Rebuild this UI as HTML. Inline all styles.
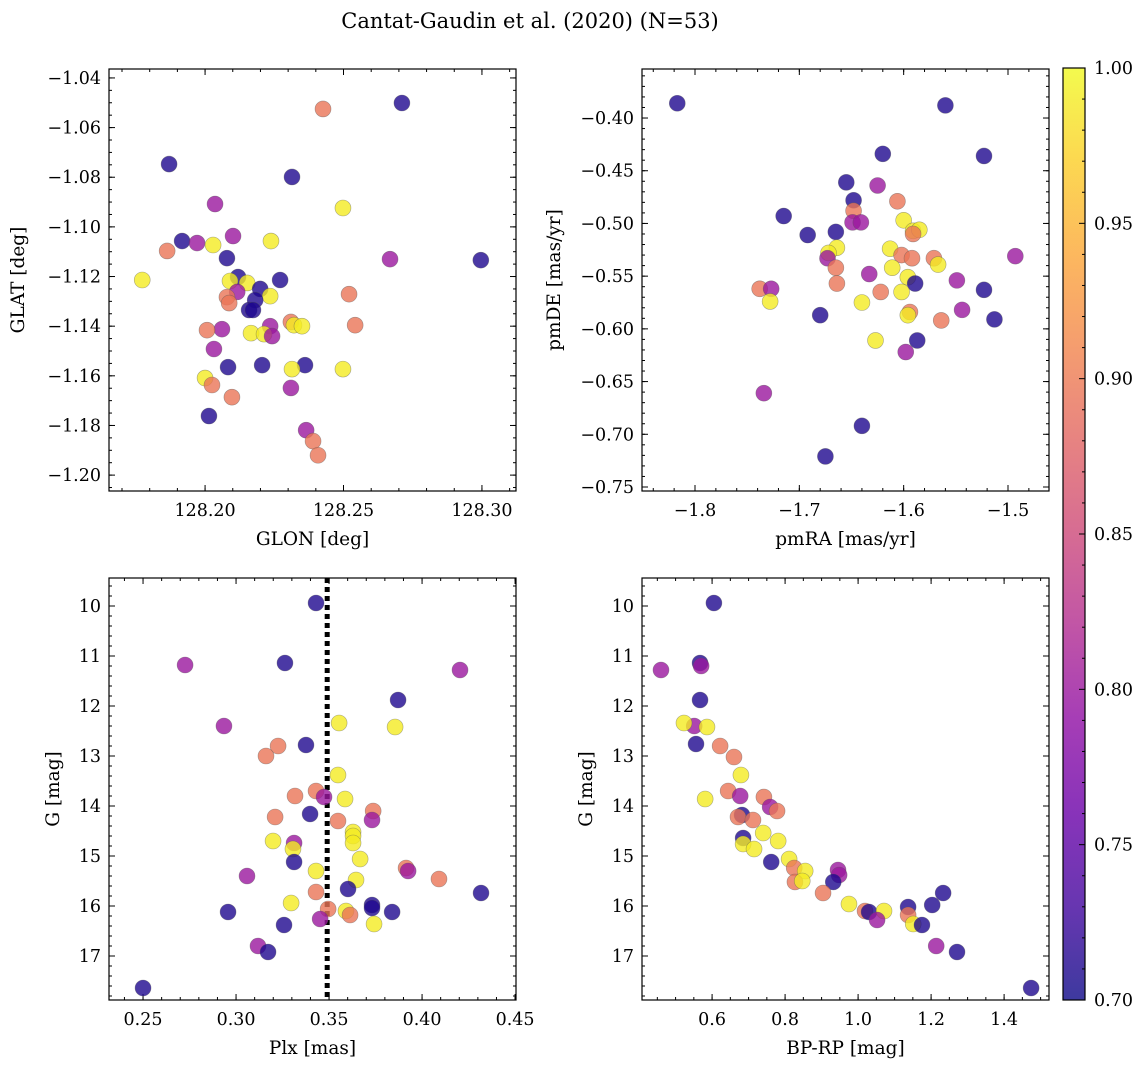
<!DOCTYPE html>
<html><head><meta charset="utf-8">
<style>
body{margin:0;background:#fff;}
svg text{font-family:"DejaVu Serif","Liberation Serif",serif;fill:#000;}
</style></head>
<body>
<svg id="fig" width="1148" height="1068" xmlns="http://www.w3.org/2000/svg">
<defs>
<linearGradient id="cbg" x1="0" y1="1" x2="0" y2="0">
<stop offset="0" stop-color="#0d0887"/><stop offset="0.1" stop-color="#41049d"/><stop offset="0.2" stop-color="#6a00a8"/><stop offset="0.3" stop-color="#8f0da4"/><stop offset="0.4" stop-color="#b12a90"/><stop offset="0.5" stop-color="#cc4778"/><stop offset="0.6" stop-color="#e16462"/><stop offset="0.7" stop-color="#f2844b"/><stop offset="0.8" stop-color="#fca636"/><stop offset="0.9" stop-color="#fcce25"/><stop offset="1" stop-color="#f0f921"/>
</linearGradient>
</defs>
<text x="530" y="28" font-size="21" text-anchor="middle">Cantat-Gaudin et al. (2020) (N=53)</text>
</svg>
<script>
// ---- data (b=0.71, p=0.80, s=0.895, y=0.99) ----
const glon=[128.2426,128.2711,128.1870,128.2314,128.2036,128.2498,128.2101,128.1917,128.1971,128.2238,128.1863,128.2029,128.2079,128.2668,128.2996,128.1773,128.2119,128.2090,128.2152,128.2271,128.2199,128.2116,128.2079,128.2235,128.2520,128.2181,128.2087,128.2159,128.2173,128.2310,128.2542,128.2235,128.2321,128.2350,128.2061,128.2007,128.2166,128.2213,128.2242,128.2032,128.2206,128.2361,128.2083,128.2314,128.2498,128.2000,128.2025,128.2310,128.2097,128.2014,128.2365,128.2390,128.2408];
const glat=[-1.0525,-1.0501,-1.0747,-1.0799,-1.0908,-1.0924,-1.1037,-1.1057,-1.1065,-1.1057,-1.1097,-1.1073,-1.1126,-1.1130,-1.1134,-1.1214,-1.1202,-1.1218,-1.1226,-1.1214,-1.1250,-1.1262,-1.1283,-1.1279,-1.1271,-1.1295,-1.1307,-1.1335,-1.1335,-1.1383,-1.1396,-1.1400,-1.1396,-1.1400,-1.1412,-1.1416,-1.1428,-1.1432,-1.1440,-1.1492,-1.1557,-1.1557,-1.1565,-1.1573,-1.1573,-1.1609,-1.1637,-1.1649,-1.1686,-1.1762,-1.1819,-1.1863,-1.1920];
const prob1=[0.895,0.71,0.71,0.71,0.80,0.99,0.80,0.71,0.80,0.99,0.895,0.99,0.71,0.80,0.71,0.99,0.71,0.99,0.99,0.71,0.71,0.80,0.895,0.99,0.895,0.71,0.895,0.71,0.71,0.895,0.895,0.80,0.99,0.99,0.80,0.895,0.99,0.99,0.80,0.80,0.71,0.71,0.71,0.99,0.99,0.99,0.895,0.80,0.895,0.71,0.80,0.895,0.895];

const pmra=[-1.655,-1.625,-1.606,-1.648,-1.648,-1.649,-1.641,-1.692,-1.665,-1.600,-1.591,-1.585,-1.591,-1.613,-1.602,-1.592,-1.664,-1.672,-1.673,-1.665,-1.611,-1.571,-1.567,-1.633,-1.596,-1.589,-1.549,-1.664,-1.622,-1.602,-1.640,-1.594,-1.596,-1.544,-1.680,-1.564,-1.587,-1.627,-1.598,-1.817,-1.560,-1.620,-1.523,-1.715,-1.493,-1.523,-1.738,-1.727,-1.728,-1.513,-1.734,-1.640,-1.675];
const pmde=[-0.461,-0.464,-0.479,-0.478,-0.488,-0.499,-0.499,-0.511,-0.508,-0.497,-0.507,-0.506,-0.510,-0.524,-0.530,-0.533,-0.523,-0.528,-0.533,-0.542,-0.542,-0.533,-0.539,-0.548,-0.551,-0.557,-0.554,-0.557,-0.565,-0.565,-0.575,-0.584,-0.587,-0.582,-0.587,-0.592,-0.611,-0.611,-0.622,-0.386,-0.388,-0.434,-0.436,-0.493,-0.531,-0.563,-0.562,-0.562,-0.574,-0.591,-0.661,-0.692,-0.721];
const prob2=[0.71,0.80,0.895,0.71,0.895,0.80,0.80,0.71,0.71,0.99,0.99,0.99,0.895,0.99,0.895,0.895,0.99,0.99,0.80,0.895,0.99,0.895,0.99,0.80,0.99,0.71,0.80,0.895,0.895,0.99,0.99,0.895,0.99,0.80,0.71,0.895,0.71,0.99,0.80,0.71,0.71,0.71,0.71,0.71,0.80,0.71,0.895,0.80,0.99,0.71,0.80,0.71,0.71];

const plx=[0.3430,0.2726,0.3263,0.4204,0.3871,0.2935,0.3554,0.3855,0.3226,0.3376,0.3161,0.3548,0.3430,0.3317,0.3473,0.3586,0.3737,0.3398,0.3210,0.3548,0.3731,0.3629,0.3629,0.3312,0.3199,0.3306,0.3629,0.3667,0.3312,0.3914,0.3925,0.3430,0.3059,0.3645,0.3602,0.4091,0.3430,0.4317,0.3296,0.3731,0.3731,0.3495,0.2957,0.3591,0.3839,0.3613,0.3452,0.3258,0.3742,0.3118,0.3172,0.2500];
const gmag3=[9.94,11.18,11.14,11.28,11.88,12.40,12.34,12.42,12.80,12.78,13.00,13.38,13.70,13.80,13.82,13.86,14.10,14.16,14.22,14.30,14.28,14.52,14.60,14.74,14.70,14.86,14.74,15.06,15.12,15.24,15.30,15.30,15.40,15.48,15.66,15.46,15.72,15.74,15.94,15.98,16.04,16.06,16.12,16.10,16.12,16.18,16.26,16.38,16.36,16.80,16.92,17.64];
const prob3=[0.71,0.80,0.71,0.80,0.71,0.80,0.99,0.99,0.895,0.71,0.895,0.99,0.895,0.895,0.80,0.99,0.895,0.71,0.895,0.895,0.80,0.99,0.99,0.80,0.99,0.99,0.99,0.99,0.71,0.895,0.80,0.99,0.80,0.99,0.71,0.895,0.895,0.71,0.99,0.71,0.71,0.895,0.71,0.99,0.71,0.895,0.80,0.71,0.99,0.80,0.71,0.71];
const plxCut=[0.349];

const bprp=[0.605,0.460,0.567,0.570,0.567,0.551,0.523,0.586,0.556,0.622,0.660,0.679,0.644,0.677,0.742,0.581,0.759,0.778,0.682,0.671,0.712,0.740,0.685,0.781,0.685,0.715,0.762,0.811,0.825,0.855,0.827,0.847,0.945,0.948,0.932,0.904,0.975,1.019,1.030,1.071,1.052,1.137,1.137,1.151,1.175,1.203,1.233,1.214,1.271,1.474];
const gmag4=[9.94,11.28,11.14,11.20,11.88,12.40,12.34,12.42,12.76,12.80,13.02,13.38,13.70,13.80,13.82,13.86,14.02,14.10,14.18,14.22,14.28,14.54,14.64,14.70,14.76,14.86,15.12,15.06,15.24,15.30,15.52,15.50,15.28,15.38,15.52,15.74,15.96,16.10,16.12,16.10,16.28,16.02,16.18,16.36,16.38,15.98,15.74,16.80,16.92,17.64];
const prob4=[0.71,0.80,0.71,0.80,0.71,0.80,0.99,0.99,0.71,0.895,0.895,0.99,0.895,0.80,0.895,0.99,0.80,0.895,0.71,0.895,0.895,0.99,0.71,0.99,0.99,0.99,0.71,0.99,0.895,0.99,0.895,0.99,0.80,0.80,0.71,0.895,0.99,0.895,0.71,0.99,0.80,0.71,0.895,0.99,0.71,0.71,0.71,0.80,0.71,0.71];

const cbTicks=[0.70,0.75,0.80,0.85,0.90,0.95,1.00];

// ---- rendering ----
const NS='http://www.w3.org/2000/svg';
const svg=document.getElementById('fig');
const TF=17.5, LF=18.5;
function mk(tag,attrs,parent){const e=document.createElementNS(NS,tag);for(const k in attrs)e.setAttribute(k,attrs[k]);(parent||svg).appendChild(e);return e;}
const stops=['#0d0887','#41049d','#6a00a8','#8f0da4','#b12a90','#cc4778','#e16462','#f2844b','#fca636','#fcce25','#f0f921'];
function hex(h){return [parseInt(h.slice(1,3),16),parseInt(h.slice(3,5),16),parseInt(h.slice(5,7),16)];}
function plasma(v){let t=Math.max(0,Math.min(1,(v-0.7)/0.3))*10;let i=Math.min(9,Math.floor(t));let f=t-i;const a=hex(stops[i]),b=hex(stops[i+1]);return 'rgb('+a.map((c,k)=>Math.round(c+(b[k]-c)*f)).join(',')+')';}

function panel(o){
  const g=mk('g',{});
  
  
  const X=v=>o.x0+(v-o.xmin)/(o.xmax-o.xmin)*(o.x1-o.x0);
  const Y=o.inv? v=>o.y0+(v-o.ymin)/(o.ymax-o.ymin)*(o.y1-o.y0) : v=>o.y1-(v-o.ymin)/(o.ymax-o.ymin)*(o.y1-o.y0);
  const tg=mk('g',{stroke:'#000','stroke-width':1},g);
  function ticks(min,max,step){const out=[];const s=Math.ceil(min/step-1e-9);for(let k=s;k*step<=max+1e-9;k++)out.push(k*step);return out;}
  ticks(o.xmin,o.xmax,o.xminor).forEach(v=>{const x=X(v);mk('line',{x1:x,x2:x,y1:o.y1,y2:o.y1-3},tg);mk('line',{x1:x,x2:x,y1:o.y0,y2:o.y0+3},tg);});
  ticks(o.ymin,o.ymax,o.yminor).forEach(v=>{const y=Y(v);mk('line',{x1:o.x0,x2:o.x0+3,y1:y,y2:y},tg);mk('line',{x1:o.x1,x2:o.x1-3,y1:y,y2:y},tg);});
  o.xt.forEach(v=>{const x=X(v);mk('line',{x1:x,x2:x,y1:o.y1,y2:o.y1-6},tg);mk('line',{x1:x,x2:x,y1:o.y0,y2:o.y0+6},tg);
    const t=mk('text',{x:x,y:o.y1+25,'font-size':TF,'text-anchor':'middle'},g);t.textContent=v.toFixed(o.xd).replace('-','\u2212');
    
    });
  o.yt.forEach(v=>{const y=Y(v);mk('line',{x1:o.x0,x2:o.x0+6,y1:y,y2:y},tg);mk('line',{x1:o.x1,x2:o.x1-6,y1:y,y2:y},tg);
    const t=mk('text',{x:o.x0-8,y:y+6,'font-size':TF,'text-anchor':'end'},g);t.textContent=v.toFixed(o.yd).replace('-','\u2212');
    
    });
  if(o.vline){o.vline.forEach(v=>{const l=mk('line',{x1:X(v),x2:X(v),y1:o.y0,y2:o.y1,stroke:'#000','stroke-width':5,'stroke-dasharray':'5,4'},g);
    
    });}
  o.xs.forEach((v,i)=>{const c=mk('circle',{cx:X(v),cy:Y(o.ys[i]),r:8,fill:plasma(o.cs[i]),'fill-opacity':0.8,stroke:'#555','stroke-opacity':0.5,'stroke-width':0.6},g);
    
    });
  const f=mk('rect',{x:o.x0,y:o.y0,width:o.x1-o.x0,height:o.y1-o.y0,fill:'none',stroke:'#000','stroke-width':1.2},g);
  
  
  const xl=mk('text',{x:(o.x0+o.x1)/2,y:o.y1+54,'font-size':LF,'text-anchor':'middle'},g);xl.textContent=o.xlab;
  
  
  const yl=mk('text',{x:0,y:0,'font-size':LF,'text-anchor':'middle',transform:'translate('+o.ylx+','+(o.y0+o.y1)/2+') rotate(-90)'},g);yl.textContent=o.ylab;
  
  
}
panel({name:'glon-glat-panel',x0:109,x1:516,y0:69,y1:491,xmin:128.1653,xmax:128.3123,ymin:-1.2064,ymax:-1.0364,xt:[128.20,128.25,128.30],xd:2,yt:[-1.04,-1.06,-1.08,-1.10,-1.12,-1.14,-1.16,-1.18,-1.20],yd:2,xminor:0.01,yminor:0.005,xs:glon,ys:glat,cs:prob1,xlab:'GLON [deg]',ylab:'GLAT [deg]',ylx:24});
panel({name:'proper-motion-panel',x0:642,x1:1049,y0:69,y1:491,xmin:-1.8508,xmax:-1.4607,ymin:-0.7538,ymax:-0.3535,xt:[-1.8,-1.7,-1.6,-1.5],xd:1,yt:[-0.40,-0.45,-0.50,-0.55,-0.60,-0.65,-0.70,-0.75],yd:2,xminor:0.02,yminor:0.01,xs:pmra,ys:pmde,cs:prob2,xlab:'pmRA [mas/yr]',ylab:'pmDE [mas/yr]',ylx:560});
panel({name:'parallax-mag-panel',x0:109,x1:516,y0:578,y1:1000,xmin:0.2317,xmax:0.4505,ymin:9.44,ymax:17.88,inv:true,xt:[0.25,0.30,0.35,0.40,0.45],xd:2,yt:[10,11,12,13,14,15,16,17],yd:0,xminor:0.01,yminor:0.2,xs:plx,ys:gmag3,cs:prob3,xlab:'Plx [mas]',ylab:'G [mag]',ylx:59,vline:plxCut});
panel({name:'cmd-panel',x0:642,x1:1049,y0:578,y1:1000,xmin:0.408,xmax:1.523,ymin:9.44,ymax:17.88,inv:true,xt:[0.6,0.8,1.0,1.2,1.4],xd:1,yt:[10,11,12,13,14,15,16,17],yd:0,xminor:0.05,yminor:0.2,xs:bprp,ys:gmag4,cs:prob4,xlab:'BP-RP [mag]',ylab:'G [mag]',ylx:592});

// colorbar
const cb=mk('g',{});


const cy0=68,cy1=1000,cx0=1063,cx1=1085;
mk('rect',{x:cx0,y:cy0,width:cx1-cx0,height:cy1-cy0,fill:'url(#cbg)','fill-opacity':0.8},cb);
const CY=v=>cy1-(v-0.7)/0.3*(cy1-cy0);
for(let k=70;k<=100;k++){const y=CY(k/100);mk('line',{x1:cx1,x2:cx1-(k%5===0?6:3),y1:y,y2:y,stroke:'#000','stroke-width':1},cb);}
cbTicks.forEach(v=>{const t=mk('text',{x:cx1+9,y:CY(v)+6,'font-size':TF},cb);t.textContent=v.toFixed(2);
  
  });
mk('rect',{x:cx0,y:cy0,width:cx1-cx0,height:cy1-cy0,fill:'none',stroke:'#000','stroke-width':1.2},cb);
</script>
</body></html>
